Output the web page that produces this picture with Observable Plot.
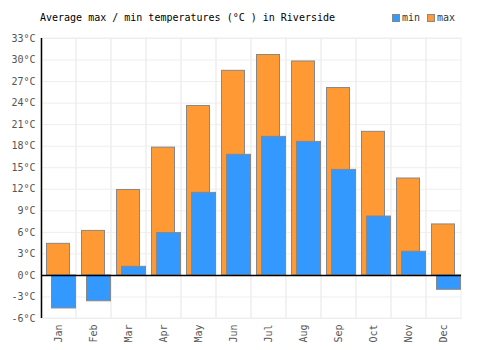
<!DOCTYPE html>
<html>
<head>
<meta charset="utf-8">
<script src="https://cdn.jsdelivr.net/npm/d3@7"></script>
<script src="https://cdn.jsdelivr.net/npm/@observablehq/plot@0.6"></script>
<style>
  body { margin: 0; background: #fff; font-family: "DejaVu Sans Mono", monospace; }
  #wrap { position: relative; width: 500px; height: 350px; }
  #title { position: absolute; left: 40px; top: 12px; font-size: 10px; color: #000; }
  #legend { position: absolute; left: 392px; top: 12px; font-size: 10px; color: #333; display: flex; align-items: center; }
  .sw { display: inline-block; width: 6px; height: 6px; border: 1px solid #888; margin-right: 2px; }
  .item { display: flex; align-items: center; margin-right: 7px; }
</style>
</head>
<body>
<div id="wrap">
  <div id="title">Average max / min temperatures (°C ) in Riverside</div>
  <div id="legend"></div>
</div>
<script>
const months = ["Jan","Feb","Mar","Apr","May","Jun","Jul","Aug","Sep","Oct","Nov","Dec"];
const maxTemps = [4.4, 6.2, 11.9, 17.8, 23.6, 28.5, 30.7, 29.8, 26.1, 20.0, 13.5, 7.1];
const minTemps = [-4.6, -3.6, 1.2, 5.9, 11.5, 16.8, 19.3, 18.6, 14.7, 8.2, 3.3, -2.0];
const yTicks = [-6, -3, 0, 3, 6, 9, 12, 15, 18, 21, 24, 27, 30, 33];
const seriesNames = ["min", "max"];
const seriesColors = ["#3399ff", "#ff9933"];

const maxData = months.map((m, i) => ({month: m, value: maxTemps[i]}));
const minData = months.map((m, i) => ({month: m, value: minTemps[i]}));

const chart = Plot.plot({
  width: 500,
  height: 350,
  marginLeft: 41,
  marginRight: 39,
  marginTop: 38,
  marginBottom: 32,
  style: {fontFamily: "DejaVu Sans Mono, monospace", fontSize: "10px", background: "transparent"},
  x: {domain: months, padding: 0, label: null, tickSize: 0, tickRotate: -90, tickPadding: 6},
  y: {domain: [-6, 33], ticks: yTicks, label: null, tickSize: 0, tickPadding: 6,
      tickFormat: d => `${d}°C`},
  marks: [
    Plot.gridY(yTicks, {stroke: "#eeeeee", strokeOpacity: 1}),
    Plot.barY(months, {x: d => d, y1: -6, y2: 33, fill: "none", stroke: "#eeeeee", strokeOpacity: 1}),
    Plot.barY(maxData, {x: "month", y1: 0, y2: "value", fill: seriesColors[1], stroke: "#888888", strokeWidth: 1, insetLeft: 5.5, insetRight: 6.5}),
    Plot.barY(minData, {x: "month", y1: 0, y2: "value", fill: seriesColors[0], stroke: "#888888", strokeWidth: 1, insetLeft: 10.5, insetRight: 0.5}),
    Plot.ruleY([0], {stroke: "#000", strokeWidth: 1.5}),
    Plot.ruleX([months[0]], {dx: -17.5, y1: -6, y2: 33, stroke: "#000", strokeWidth: 1.5})
  ]
});
chart.style.position = "absolute";
chart.style.left = "0";
chart.style.top = "0";
chart.querySelectorAll("[aria-label='y-axis tick label'] text, [aria-label='x-axis tick label'] text").forEach(t => t.setAttribute("fill", "#555"));
const wrap = document.getElementById("wrap");
wrap.insertBefore(chart, wrap.firstChild);

const legend = document.getElementById("legend");
seriesNames.forEach((n, i) => {
  const it = document.createElement("span");
  it.className = "item";
  const sw = document.createElement("span");
  sw.className = "sw";
  sw.style.background = seriesColors[i];
  it.appendChild(sw);
  it.appendChild(document.createTextNode(n));
  legend.appendChild(it);
});
</script>
</body>
</html>
